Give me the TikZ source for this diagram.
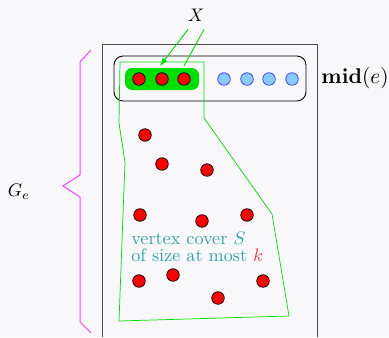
\documentclass[tikz,border=0pt]{standalone}
\usepackage{amssymb}
\usepackage{color}
\usepackage{tikz}
\usetikzlibrary{arrows}

\begin{document}
\begin{tikzpicture}[x=0.55pt,y=-0.55pt]
    \definecolor{bg}{HTML}{F8F8FB}
    \definecolor{vcgreen}{HTML}{00E000}
    \definecolor{midblue}{HTML}{88CCFF}
    \definecolor{vcteal}{HTML}{2FA3A3}
    \definecolor{kred}{HTML}{FF3050}
    \definecolor{brace}{HTML}{FF40FF}
    \tikzset{
      reddot/.style={circle,draw=black,fill=red,inner sep=0pt,minimum size=6.9pt,line width=0.4pt},
      bluedot/.style={circle,draw=blue!80,fill=midblue,inner sep=0pt,minimum size=6.9pt,line width=0.4pt}
    }
    \useasboundingbox[fill=bg] (0,0) rectangle (389,337);
    \draw[black!70,line width=0.55pt] (102,337) -- (102,44) -- (317,44) -- (317,337);  %Rahmen von G_e
    \draw[rounded corners=5pt,line width=0.5pt] (114,56) rectangle (306,101);  %mid(e)
    \node[fill=vcgreen,rounded corners=4pt,minimum width=74*0.55pt,minimum height=22*0.55pt] (blob) at (162,79) {};
    \foreach \name/\x in {m1/139, m2/162, m3/184}  %Knoten in X
      \node[reddot] (\name) at (\x,79) {};
    \foreach \name/\x in {b1/224, b2/247, b3/269, b4/292}
      \node[bluedot] (\name) at (\x,79) {};
    \foreach \name/\x/\y in
    {
      r1/145/135, r2/162/164, r3/207/170,
      r4/140/215, r5/202/221, r6/247/215,
      r7/139/281, r8/173/275, r9/263/281, r10/218/298
    }
      \node[reddot] (\name) at (\x,\y) {};
    \draw[vcgreen,line width=0.4pt] (120,62) -- (204,62) -- (204,118) -- (272,214) -- (289,316)
      -- (119,321) -- (125,162) -- (119,123) -- cycle;  %Knotenueberdeckung S
    \node[anchor=west,text=vcteal,inner sep=0pt] (vc1) at (131,238) {vertex cover $S$};
    \node[anchor=west,text=vcteal,inner sep=0pt] (vc2) at (131,255) {of size at most {\color{kred}$k$}};
    \node[scale=1.17] (mid) at (355,78) {$\mathbf{mid}(e)$};
    \node (X) at (196,15) {$X$};
    \draw[vcgreen,line width=0.5pt,-latex] ([xshift=-4.4pt,yshift=-1pt]X.south) -- ([xshift=-1pt,yshift=1pt]blob.north);
    \draw[vcgreen,line width=0.5pt] ([xshift=4.4pt,yshift=-1pt]X.south) -- ([yshift=1pt]m3 |- blob.north);
    \draw[brace,line width=0.55pt] (91,50) -- (80,62) -- (80,175) -- (63,186) -- (80,197)
      -- (80,322) -- (91,333);  %Klammer
    \node (Ge) at (19,192) {$G_e$};
  \end{tikzpicture}
\end{document}
